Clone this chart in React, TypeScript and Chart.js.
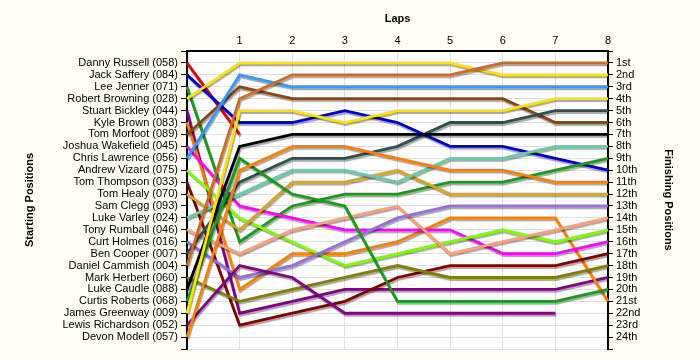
import React, { useEffect, useRef } from 'react';
import { Chart, registerables } from 'chart.js';

Chart.register(...registerables);

const LAPS = ['', '1', '2', '3', '4', '5', '6', '7', '8'];

const DRIVERS = [
  'Danny Russell (058)', 'Jack Saffery (084)', 'Lee Jenner (071)', 'Robert Browning (028)',
  'Stuart Bickley (044)', 'Kyle Brown (083)', 'Tom Morfoot (089)', 'Joshua Wakefield (045)',
  'Chris Lawrence (056)', 'Andrew Vizard (075)', 'Tom Thompson (033)', 'Tom Healy (070)',
  'Sam Clegg (093)', 'Luke Varley (024)', 'Tony Rumball (046)', 'Curt Holmes (016)',
  'Ben Cooper (007)', 'Daniel Cammish (004)', 'Mark Herbert (060)', 'Luke Caudle (088)',
  'Curtis Roberts (068)', 'James Greenway (009)', 'Lewis Richardson (052)', 'Devon Modell (057)',
];

const FINISH_LABELS = [
  '1st', '2nd', '3rd', '4th', '5th', '6th', '7th', '8th', '9th', '10th', '11th', '12th',
  '13th', '14th', '15th', '16th', '17th', '18th', '19th', '20th', '21st', '22nd', '23rd', '24th',
];

// position per lap (lap 0 = starting grid)
const RUSSELL = [1, 7, null, null, null, null, null, null, null];
const SAFFERY = [2, 6, 6, 5, 6, 8, 8, 9, 10];
const JENNER = [3, 16, 13, 12, 12, 11, 11, 10, 9];
const BROWNING = [4, 1, 1, 1, 1, 1, 2, 2, 2];
const BICKLEY = [5, 22, 21, 20, 20, 20, 20, 20, 19];
const KBROWN = [6, 20, 17, 17, 16, 14, 14, 14, 21];
const MORFOOT = [7, 3, 4, 4, 4, 4, 4, 6, 6];
const WAKEFIELD = [8, 13, 14, 15, 15, 15, 17, 17, 16];
const LAWRENCE = [9, 2, 3, 3, 3, 3, 3, 3, 3];
const VIZARD = [10, 14, 16, 18, 17, 16, 15, 16, 15];
const THOMPSON = [11, 23, 22, 21, 19, 18, 18, 18, 17];
const HEALY = [12, 15, 11, 11, 10, 12, 12, 12, 12];
const VARLEY = [14, 12, 10, 10, 11, 9, 9, 8, 8];
const RUMBALL = [15, 17, 15, 14, 13, 17, 16, 15, 14];
const HOLMES = [16, 19, 18, 16, 14, 13, 13, 13, 13];
const COOPER = [17, 11, 9, 9, 8, 6, 6, 5, 5];
const CAMMISH = [18, 4, 2, 2, 2, 2, 1, 1, 1];
const HERBERT = [19, 21, 20, 19, 18, 19, 19, 19, 18];
const CAUDLE = [20, 8, 7, 7, 7, 7, 7, 7, 7];
const ROBERTS = [21, 9, 12, 13, 21, 21, 21, 21, 20];
const GREENWAY = [22, 5, 5, 6, 5, 5, 5, 4, 4];
const RICHARDSON = [23, 18, 19, 22, 22, 22, 22, 22, null];
const MODELL = [24, 10, 8, 8, 9, 10, 10, 11, 11];

const SERIES_DATA = [
  RUSSELL, SAFFERY, JENNER, BROWNING, BICKLEY, KBROWN, MORFOOT, WAKEFIELD, LAWRENCE,
  VIZARD, THOMPSON, HEALY, VARLEY, RUMBALL, HOLMES, COOPER, CAMMISH, HERBERT, CAUDLE,
  ROBERTS, GREENWAY, RICHARDSON, MODELL,
];
const SERIES_NAMES = [
  DRIVERS[0], DRIVERS[1], DRIVERS[2], DRIVERS[3], DRIVERS[4], DRIVERS[5], DRIVERS[6], DRIVERS[7],
  DRIVERS[8], DRIVERS[9], DRIVERS[10], DRIVERS[11], DRIVERS[13], DRIVERS[14], DRIVERS[15],
  DRIVERS[16], DRIVERS[17], DRIVERS[18], DRIVERS[19], DRIVERS[20], DRIVERS[21], DRIVERS[22], DRIVERS[23],
];
const SERIES_COLORS = [
  '#e00000', '#0000cc', '#1a9a1a', '#ffe400', '#800080', '#ff8000', '#8b4513', '#ff00ff',
  '#3399ff', '#80ff00', '#800000', '#daa520', '#66cdaa', '#ffa07a', '#9370db', '#2f4f4f',
  '#d2691e', '#808000', '#000000', '#1a9a1a', '#ffe400', '#800080', '#ff8000',
];

const FONT = 'Liberation Sans';

const bgPlugin = {
  id: 'bgPlugin',
  beforeDraw(chart: any) {
    const { ctx, chartArea } = chart;
    ctx.save();
    ctx.fillStyle = '#fefef4';
    ctx.fillRect(0, 0, chart.width, chart.height);
    ctx.fillStyle = '#ffffff';
    ctx.fillRect(chartArea.left, chartArea.top, chartArea.right - chartArea.left, chartArea.bottom - chartArea.top);
    ctx.restore();
  },
};

const shadowPlugin = {
  id: 'shadowPlugin',
  beforeDatasetsDraw(chart: any) {
    const ctx = chart.ctx;
    ctx.save();
    ctx.shadowColor = 'rgba(0,0,0,0.35)';
    ctx.shadowOffsetX = 1;
    ctx.shadowOffsetY = 2;
    ctx.shadowBlur = 1;
  },
  afterDatasetsDraw(chart: any) {
    chart.ctx.restore();
  },
};

export default function App() {
  const ref = useRef<HTMLCanvasElement | null>(null);
  useEffect(() => {
    if (!ref.current) return;
    const n = SERIES_DATA.length;
    const chart = new Chart(ref.current, {
      type: 'line',
      data: {
        labels: LAPS,
        datasets: SERIES_DATA.map((d, i) => ({
          label: SERIES_NAMES[i],
          data: d,
          borderColor: SERIES_COLORS[i],
          backgroundColor: SERIES_COLORS[i],
          borderWidth: 2.8,
          pointRadius: 0,
          tension: 0,
          fill: false,
          spanGaps: false,
          yAxisID: 'y',
          order: n - i,
        })),
      },
      options: {
        animation: false,
        responsive: false,
        layout: { padding: { left: 0, right: 0, top: 0, bottom: 11 } },
        plugins: { legend: { display: false }, tooltip: { enabled: false } },
        scales: {
          x: {
            position: 'top',
            offset: false,
            grid: { color: '#e2e2e2', drawTicks: false, lineWidth: 1 },
            border: { color: '#000', width: 2 },
            ticks: { color: '#000', font: { family: FONT, size: 11 }, padding: 3, maxRotation: 0, autoSkip: false },
            title: { display: true, text: 'Laps', color: '#000', font: { family: FONT, size: 11, weight: 'bold' }, padding: { top: 12, bottom: 0 } },
            afterFit: (s: any) => { s.height = 51; },
          },
          y: {
            position: 'left',
            min: 0,
            max: 25,
            reverse: true,
            grid: { color: '#e2e2e2', tickColor: '#000', tickLength: 6, lineWidth: 1 },
            border: { color: '#000', width: 2 },
            ticks: {
              stepSize: 1,
              autoSkip: false,
              padding: 3,
              color: '#000',
              font: { family: FONT, size: 11 },
              callback: (v: any) => (v >= 1 && v <= 24 ? DRIVERS[v - 1] : ''),
            },
            title: { display: true, text: 'Starting Positions', color: '#000', font: { family: FONT, size: 11, weight: 'bold' }, padding: { top: 23, bottom: 0 } },
            afterFit: (s: any) => { s.width = 187; },
          },
          y2: {
            position: 'right',
            min: 0,
            max: 25,
            reverse: true,
            grid: { drawOnChartArea: false, tickColor: '#000', tickLength: 5 },
            border: { color: '#000', width: 2 },
            ticks: {
              stepSize: 1,
              autoSkip: false,
              padding: 3,
              color: '#000',
              font: { family: FONT, size: 11 },
              callback: (v: any) => (v >= 1 && v <= 24 ? FINISH_LABELS[v - 1] : ''),
            },
            title: { display: true, text: 'Finishing Positions', color: '#000', font: { family: FONT, size: 11, weight: 'bold' }, padding: { top: 25, bottom: 0 } },
            afterFit: (s: any) => { s.width = 92; },
          },
        },
      } as any,
      plugins: [bgPlugin, shadowPlugin],
    });
    return () => chart.destroy();
  }, []);
  return (
    <div style={{ position: 'fixed', left: 0, top: 0, width: 700, height: 360, background: '#fefef4' }}>
      <canvas ref={ref} width={700} height={360} style={{ display: 'block', width: 700, height: 360 }} />
    </div>
  );
}
